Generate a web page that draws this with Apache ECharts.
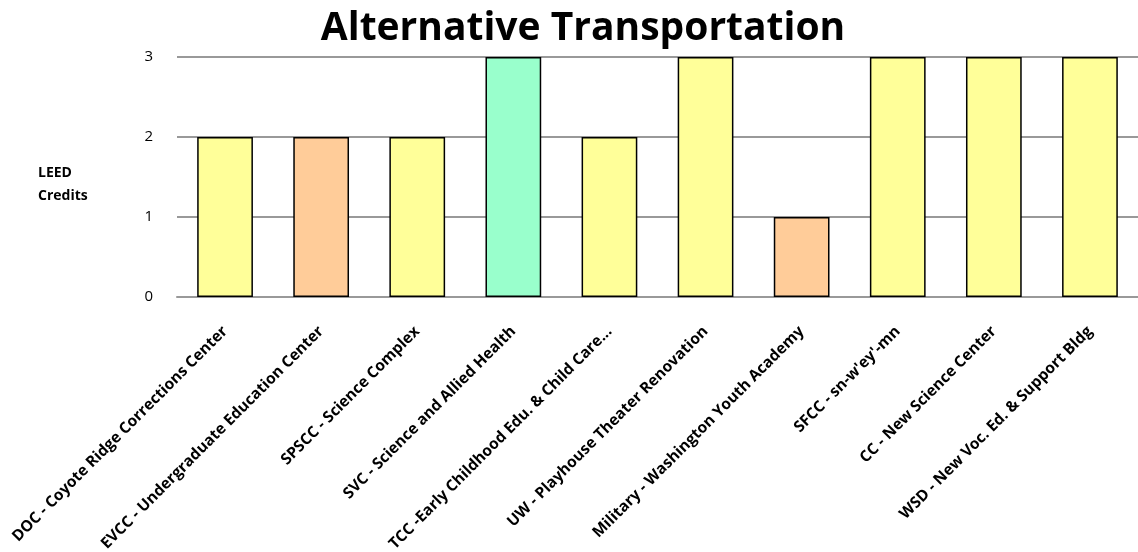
<!DOCTYPE html>
<html>
<head>
<meta charset="utf-8">
<script src="https://cdn.jsdelivr.net/npm/echarts@6/dist/echarts.min.js"></script>
<style>html,body{margin:0;padding:0;background:#fff}#c{width:1138px;height:552px}</style>
</head>
<body>
<div id="c"></div>
<script>
const categories = [
  "DOC - Coyote Ridge Corrections Center",
  "EVCC - Undergraduate Education Center",
  "SPSCC - Science Complex",
  "SVC - Science and Allied Health",
  "TCC -Early Childhood Edu. & Child Care...",
  "UW - Playhouse Theater Renovation",
  "Military - Washington Youth Academy",
  "SFCC - sn-w'ey'-mn",
  "CC - New Science Center",
  "WSD - New Voc. Ed. & Support Bldg"
];
const credits = [2, 2, 2, 3, 2, 3, 1, 3, 3, 3];
const barColors = ["#FFFF99", "#FFCC99", "#FFFF99", "#99FFCC", "#FFFF99", "#FFFF99", "#FFCC99", "#FFFF99", "#FFFF99", "#FFFF99"];
const yTicks = [0, 1, 2, 3];
const yAxisTitle = "LEED\nCredits";

const font = "'Open Sans', 'Liberation Sans', sans-serif";
const chart = echarts.init(document.getElementById('c'), null, {renderer: 'canvas'});
chart.setOption({
  animation: false,
  title: [{
    text: "Alternative Transportation",
    left: 578, top: 4, textAlign: 'center',
    textStyle: {fontFamily: font, fontWeight: 'bold', fontSize: 39, color: '#000'}
  }, {
    text: yAxisTitle,
    left: 33, top: 157,
    textStyle: {fontFamily: font, fontWeight: 'bold', fontSize: 14, color: '#000', lineHeight: 23}
  }],
  grid: {left: 177, right: 0, top: 57, bottom: 255, containLabel: false, outerBoundsMode: 'none'},
  xAxis: {
    type: 'category',
    data: categories,
    axisLine: {show: true, lineStyle: {color: '#999', width: 2}},
    axisTick: {show: false},
    axisLabel: {
      interval: 0, rotate: 45, margin: 32,
      fontFamily: font, fontWeight: 'bold', fontSize: 15.5, color: '#000'
    }
  },
  yAxis: {
    type: 'value',
    min: yTicks[0], max: yTicks[yTicks.length - 1], interval: 1,
    axisLine: {show: false},
    axisTick: {show: false},
    axisLabel: {fontFamily: font, fontSize: 15, color: '#000', margin: 24},
    splitLine: {lineStyle: {color: '#999', width: 2}}
  },
  series: [{
    type: 'bar',
    data: credits.map((v, i) => ({value: v, itemStyle: {color: barColors[i]}})),
    barWidth: '58%',
    itemStyle: {borderColor: '#000', borderWidth: 1.5}
  }]
});
</script>
</body>
</html>
